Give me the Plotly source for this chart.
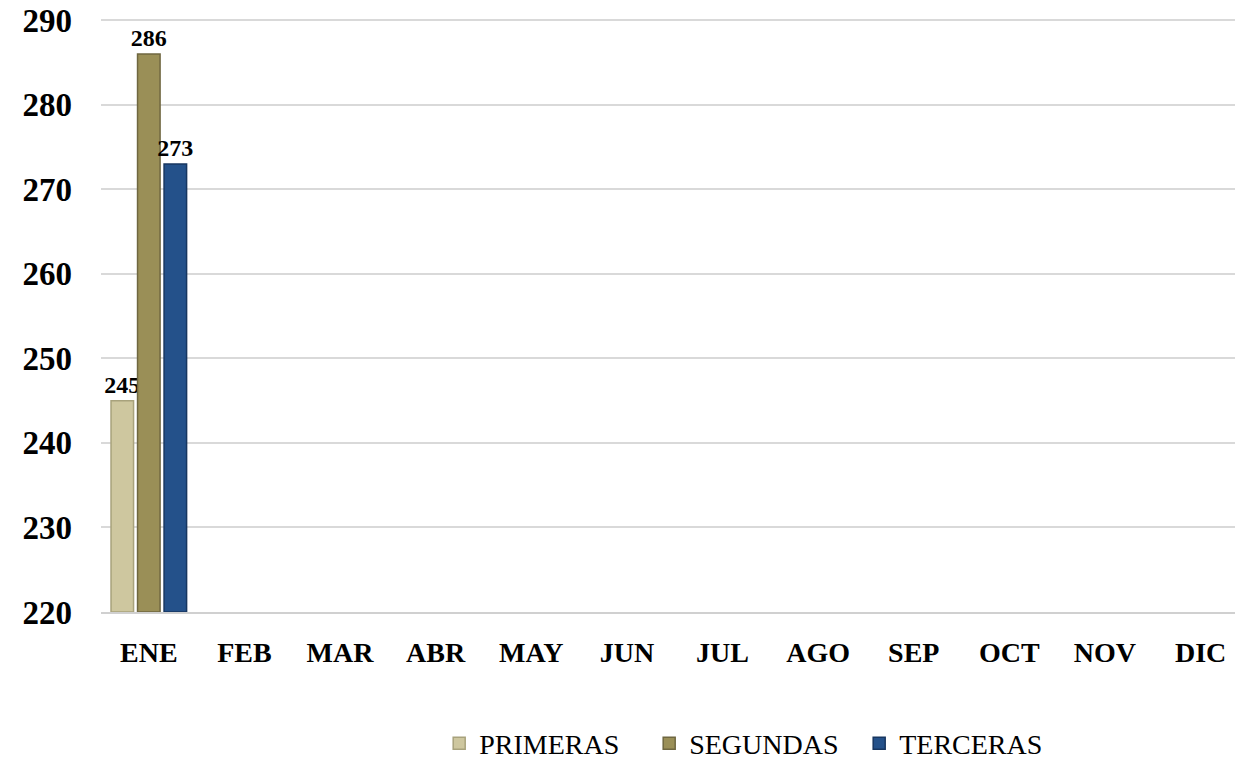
import plotly.graph_objects as go

months = ["ENE", "FEB", "MAR", "ABR", "MAY", "JUN", "JUL", "AGO", "SEP", "OCT", "NOV", "DIC"]
primeras = [245] + [None] * 11
segundas = [286] + [None] * 11
terceras = [273] + [None] * 11
y_ticks = [220, 230, 240, 250, 260, 270, 280, 290]
y_base = 220

series = [
    ("PRIMERAS", primeras, "#CEC79F", "#A8A27C"),
    ("SEGUNDAS", segundas, "#9A8F57", "#6F6740"),
    ("TERCERAS", terceras, "#24518A", "#173660"),
]

fig = go.Figure()
for name, vals, col, edge in series:
    fig.add_trace(go.Bar(
        name=name, x=months,
        y=[(v - y_base) if v is not None else None for v in vals], base=y_base,
        marker=dict(color=col, line=dict(color=edge, width=1.5)),
        text=[("%d" % v) if v is not None else "" for v in vals],
        textposition="outside", cliponaxis=False, constraintext="none",
        textfont=dict(family="Liberation Serif", size=24, color="#000000", weight="bold"),
    ))

fig.update_layout(
    width=1235, height=760,
    margin=dict(l=101, r=0, t=19, b=148, autoexpand=False),
    paper_bgcolor="white", plot_bgcolor="white",
    barmode="group", bargap=0.168, bargroupgap=0.15,
    showlegend=True,
    legend=dict(orientation="h", x=0.576, xanchor="center", y=-0.222, yanchor="middle",
                font=dict(family="Liberation Serif", size=28, color="#000000"),
                entrywidth=165, entrywidthmode="pixels", itemwidth=30),
    xaxis=dict(range=[-0.5, 11.36], showgrid=False, showline=True, linecolor="#D0D0D0", linewidth=2,
               ticks="", automargin=False,
               tickfont=dict(family="Liberation Serif", size=28, color="#000000", weight="bold"),
               ticklabelstandoff=14),
    yaxis=dict(range=[220, 290.15], tickvals=y_ticks, showgrid=True, gridcolor="#D9D9D9", gridwidth=1.5,
               zeroline=False, showline=False, ticks="", automargin=False,
               tickfont=dict(family="Liberation Serif", size=33, color="#000000", weight="bold"),
               ticklabelstandoff=28),
)

fig.write_html("out.html", config={"displayModeBar": False},
               post_script="document.body.style.margin='0px';")
